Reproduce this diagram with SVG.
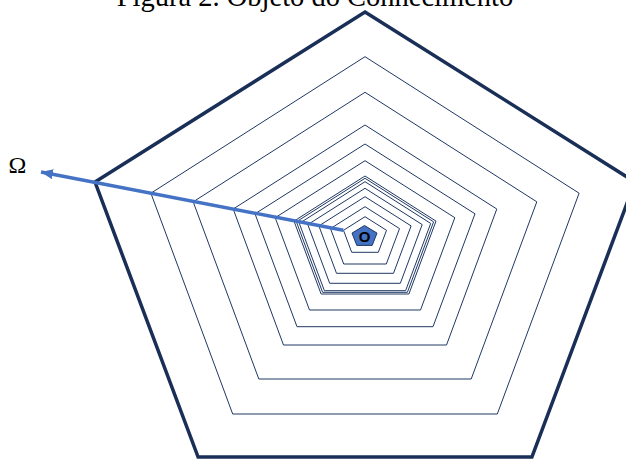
<svg xmlns="http://www.w3.org/2000/svg" width="626" height="459" viewBox="0 0 626 459">
<defs>
<style>
.t{font-family:"Liberation Serif","Times New Roman",serif;fill:#000}
.p{fill:none;stroke:#1F3864;stroke-width:1;stroke-linejoin:miter}
.outer{fill:none;stroke:#1A2F57;stroke-width:3.5;stroke-linejoin:miter}
.arrow{fill:none;stroke:#4472C4;stroke-width:3.5}
</style>
<marker id="ah" markerUnits="userSpaceOnUse" markerWidth="14" markerHeight="12" refX="12" refY="5" orient="auto">
<path d="M0,0 L12,5 L0,10 Z" fill="#4472C4"/>
</marker>
</defs>
<rect width="626" height="459" fill="#fff"/>
<text class="t" x="315" y="6" font-size="28.5" text-anchor="middle">Figura 2. Objeto do Conhecimento</text>
<g id="pentagons">
<g id="p1"><polygon class="outer" points="365,12 635,182 531.9,457 198.1,457 95,182"/></g>
<g id="p2"><polygon class="p" points="365,56.7 579.1,193.2 497.3,414 232.7,414 150.9,193.2"/></g>
<g id="p3"><polygon class="p" points="365,92.3 536.8,201.8 471.2,379 258.8,379 193.2,201.8"/></g>
<g id="p4"><polygon class="p" points="365,125 496.8,209 446.5,345 283.5,345 233.2,209"/></g>
<g id="p5"><polygon class="p" points="365,144 475,213.8 433,326.7 297,326.7 255,213.8"/></g>
<g id="p6"><polygon class="p" points="365,160.7 454.8,217.7 420.5,310 309.5,310 275.2,217.7"/></g>
<g id="p7"><polygon class="p" points="365,176 436,221.1 408.9,294 321.1,294 294,221.1"/></g>
<g id="p8"><polygon class="p" points="365,178.3 433.6,221.8 407.4,292.3 322.6,292.3 296.4,221.8"/></g>
<g id="p9"><polygon class="p" points="365,181.7 430.7,223.4 405.6,290.7 324.4,290.7 299.3,223.4"/></g>
<g id="p10"><polygon class="p" points="365,188.3 422.2,224.6 400.3,283.3 329.7,283.3 307.8,224.6"/></g>
<g id="p11"><polygon class="p" points="365,196.7 411.1,225.9 393.5,273.3 336.5,273.3 318.9,225.9"/></g>
<g id="p12"><polygon class="p" points="365,206.7 399.5,228.6 386.3,264 343.7,264 330.5,228.6"/></g>
<g id="p13"><polygon class="p" points="365,216.7 386.5,230.3 378.3,252.3 351.7,252.3 343.5,230.3"/></g>
</g>
<g id="origin">
<polygon points="364.5,225.5 377,233.1 372.2,245.4 356.8,245.4 352,233.1" fill="#4472C4" stroke="#1F3864" stroke-width="1"/>
<text x="364.5" y="241.8" font-family="Liberation Sans, Arial, sans-serif" font-size="15" font-weight="bold" text-anchor="middle" fill="#000">O</text>
</g>
<g id="connectors">
<line class="arrow" x1="343.3" y1="230.3" x2="41" y2="172" marker-end="url(#ah)"/>
</g>
<g id="omega">
<text class="t" x="8.5" y="172.5" font-size="24">Ω</text>
</g>
</svg>
